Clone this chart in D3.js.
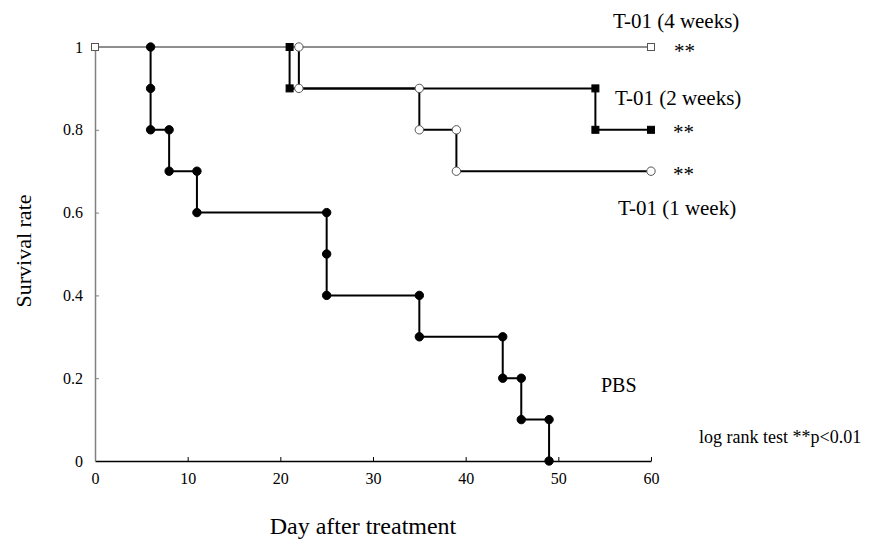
<!DOCTYPE html>
<html>
<head>
<meta charset="utf-8">
<script src="https://cdn.jsdelivr.net/npm/d3@7"></script>
<style>
  body { margin:0; background:#fff; }
  text { font-family: "Liberation Serif", "Times New Roman", serif; fill:#000; }
</style>
</head>
<body>
<div id="chart"></div>
<script>
// survival curves (each step corner is a marker)
var pbsDays = [6, 6, 6, 8, 8, 11, 11, 25, 25, 25, 35, 35, 44, 44, 46, 46, 49, 49];
var pbsRate = [1, 0.9, 0.8, 0.8, 0.7, 0.7, 0.6, 0.6, 0.5, 0.4, 0.4, 0.3, 0.3, 0.2, 0.2, 0.1, 0.1, 0];
var wk1Days = [22, 22, 35, 35, 39, 39, 60];
var wk1Rate = [1, 0.9, 0.9, 0.8, 0.8, 0.7, 0.7];
var wk2Days = [21, 21, 54, 54, 60];
var wk2Rate = [1, 0.9, 0.9, 0.8, 0.8];
var wk4Days = [0, 60];
var wk4Rate = [1, 1];

var xTicks = [0, 10, 20, 30, 40, 50, 60];
var yTicks = [0, 0.2, 0.4, 0.6, 0.8, 1];

function zip(days, rate){
  return days.map(function(d, i){ return {day: d, rate: rate[i]}; });
}

var W = 869, H = 539;
var svg = d3.select('#chart').append('svg')
  .attr('width', W).attr('height', H);

var x = d3.scaleLinear().domain([0, 60]).range([95, 651]);
var y = d3.scaleLinear().domain([0, 1]).range([461, 47]);

// axes
var xAxis = d3.axisBottom(x).tickValues(xTicks).tickSizeInner(-4).tickSizeOuter(0).tickPadding(12)
  .tickFormat(d3.format('d'));
var gx = svg.append('g').attr('transform', 'translate(0,' + y(0) + ')').call(xAxis);
gx.select('.domain').attr('stroke', '#000').attr('stroke-width', 1.5);
gx.selectAll('.tick line').attr('stroke', '#000');
gx.selectAll('.tick text').style('font-size', '16px').style('font-family', '"Liberation Serif", serif');

var yAxis = d3.axisLeft(y).tickValues(yTicks).tickSizeInner(-4).tickSizeOuter(0).tickPadding(12)
  .tickFormat(function(d){ return d === 0 || d === 1 ? d3.format('d')(d) : d3.format('.1f')(d); });
var gy = svg.append('g').attr('transform', 'translate(' + x(0) + ',0)').call(yAxis);
gy.select('.domain').attr('stroke', '#808080').attr('stroke-width', 1.5);
gy.selectAll('.tick line').attr('stroke', '#808080');
gy.selectAll('.tick text').style('font-size', '16px').style('font-family', '"Liberation Serif", serif');
gy.selectAll('.tick').filter(function(d){ return d === 0; }).select('line').remove();
gx.selectAll('.tick').filter(function(d){ return d === 0; }).select('line').remove();

var line = d3.line()
  .x(function(d){ return x(d.day); })
  .y(function(d){ return y(d.rate); });

function addCurve(data, color, width){
  svg.append('path')
    .attr('d', line(data))
    .attr('fill', 'none')
    .attr('stroke', color)
    .attr('stroke-width', width);
}

function addCircles(data, fill, stroke){
  svg.append('g').selectAll('circle')
    .data(data).enter().append('circle')
    .attr('cx', function(d){ return x(d.day); })
    .attr('cy', function(d){ return y(d.rate); })
    .attr('r', 4.2)
    .attr('fill', fill)
    .attr('stroke', stroke)
    .attr('stroke-width', 1);
}

function addSquares(data, fill, stroke){
  var s = 7;
  svg.append('g').selectAll('rect')
    .data(data).enter().append('rect')
    .attr('x', function(d){ return x(d.day) - s/2; })
    .attr('y', function(d){ return y(d.rate) - s/2; })
    .attr('width', s).attr('height', s)
    .attr('fill', fill)
    .attr('stroke', stroke)
    .attr('stroke-width', 1);
}

var pbs = zip(pbsDays, pbsRate), wk1 = zip(wk1Days, wk1Rate),
    wk2 = zip(wk2Days, wk2Rate), wk4 = zip(wk4Days, wk4Rate);

addCurve(wk4, '#6a6a6a', 1.5);
addCurve(wk2, '#000', 2);
addCurve(wk1, '#000', 2);
addCurve(pbs, '#000', 2);
addSquares(wk4, '#fff', '#555');
addSquares(wk2, '#000', '#000');
addCircles(wk1, '#fff', '#555');
addCircles(pbs, '#000', '#000');

// labels
function label(txt, lx, ly, size){
  return svg.append('text').attr('x', lx).attr('y', ly)
    .style('font-size', size + 'px').text(txt);
}
label('T-01 (4 weeks)', 613, 28, 21);
label('T-01 (2 weeks)', 615, 105, 21);
label('T-01 (1 week)', 618, 215, 21);
label('**', 674, 58, 21);
label('**', 673, 139, 21);
label('**', 673, 181, 21);
label('PBS', 601, 392, 20);
label('log rank test **p<0.01', 699, 443, 18);

svg.append('text')
  .attr('x', 363).attr('y', 534)
  .attr('text-anchor', 'middle')
  .style('font-size', '24px')
  .text('Day after treatment');

svg.append('text')
  .attr('transform', 'translate(31,251) rotate(-90)')
  .attr('text-anchor', 'middle')
  .style('font-size', '22px')
  .text('Survival rate');
</script>
</body>
</html>
